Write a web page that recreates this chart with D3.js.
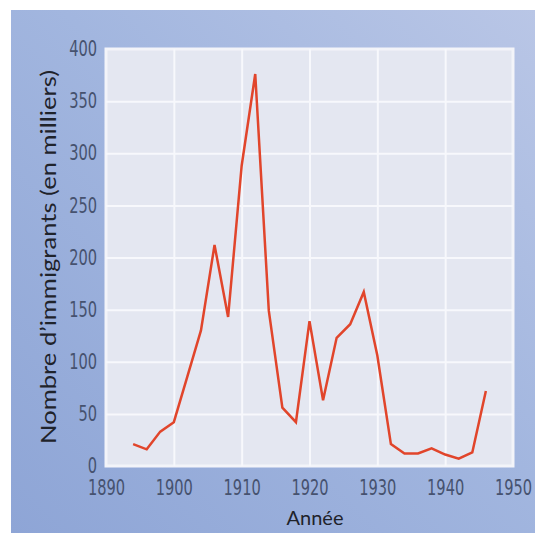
<!DOCTYPE html>
<html>
<head>
<meta charset="utf-8">
<script src="https://cdn.jsdelivr.net/npm/d3@7"></script>
<style>
  html, body { margin: 0; padding: 0; background: #fff; }
  svg { display: block; }
</style>
</head>
<body>
<svg id="chart"></svg>
<script>
// Immigration figures, every two years
const years = [1894, 1896, 1898, 1900, 1902, 1904, 1906, 1908, 1910, 1912, 1914, 1916, 1918, 1920,
  1922, 1924, 1926, 1928, 1930, 1932, 1934, 1936, 1938, 1940, 1942, 1944, 1946];
const immigrants = [21, 16, 33, 42, 86, 130, 212, 143, 288, 376, 149, 56, 42, 139,
  63, 123, 136, 167, 106, 21, 12, 12, 17, 11, 7, 13, 72];
const xTicks = [1890, 1900, 1910, 1920, 1930, 1940, 1950];
const yTicks = [0, 50, 100, 150, 200, 250, 300, 350, 400];

const width = 535, height = 533;
const plot = { left: 106, right: 513, top: 49, bottom: 466 };

const svg = d3.select('#chart')
  .attr('width', width)
  .attr('height', height);

// Blue backdrop
const defs = svg.append('defs');
const grad = defs.append('linearGradient')
  .attr('id', 'bg')
  .attr('x1', '0%').attr('y1', '100%')
  .attr('x2', '100%').attr('y2', '0%');
grad.append('stop').attr('offset', '0%').attr('stop-color', '#8ea5d6');
grad.append('stop').attr('offset', '55%').attr('stop-color', '#a2b6df');
grad.append('stop').attr('offset', '100%').attr('stop-color', '#b9c6e6');

svg.append('rect')
  .attr('x', 11).attr('y', 10)
  .attr('width', width - 11).attr('height', height - 10)
  .attr('fill', 'url(#bg)');

const x = d3.scaleLinear().domain([1890, 1950]).range([plot.left, plot.right]);
const y = d3.scaleLinear().domain([0, 400]).range([plot.bottom, plot.top]);

// Plot panel
svg.append('rect')
  .attr('x', plot.left).attr('y', plot.top)
  .attr('width', plot.right - plot.left).attr('height', plot.bottom - plot.top)
  .attr('fill', '#e4e7f1')
  .attr('stroke', '#f3f4f9')
  .attr('stroke-width', 3);

// Grid lines
const grid = svg.append('g').attr('class', 'grid');
grid.append('g')
  .attr('transform', `translate(0, ${plot.bottom})`)
  .call(d3.axisBottom(x).tickValues(xTicks.slice(1, -1)).tickSize(-(plot.bottom - plot.top)).tickFormat(''));
grid.append('g')
  .attr('transform', `translate(${plot.left}, 0)`)
  .call(d3.axisLeft(y).tickValues(yTicks.slice(1, -1)).tickSize(-(plot.right - plot.left)).tickFormat(''));
grid.selectAll('.domain').remove();
grid.selectAll('.tick line')
  .attr('stroke', '#f7f8fc')
  .attr('stroke-width', 2);

// Axes (labels only) - squeezed horizontally for the condensed look
const tickFont = '"Liberation Sans Narrow", "DejaVu Sans Condensed", Roboto, sans-serif';
const digitWidth = 9.3;

function condense(sel) {
  sel.style('font-family', tickFont)
    .style('font-size', '21px')
    .attr('fill', '#46526f')
    .each(function (d) {
      const w = this.getComputedTextLength();
      const sx = (String(d).length * digitWidth) / w;
      const anchorX = +d3.select(this).attr('x') || 0;
      d3.select(this).attr('transform',
        `translate(${anchorX}, 0) scale(${sx}, 1) translate(${-anchorX}, 0)`);
    });
}

const xAxis = svg.append('g')
  .attr('transform', `translate(0, ${plot.bottom})`)
  .call(d3.axisBottom(x).tickValues(xTicks).tickSize(0).tickPadding(14).tickFormat(d3.format('d')));
xAxis.select('.domain').remove();
xAxis.selectAll('text').call(condense);

const yAxis = svg.append('g')
  .attr('transform', `translate(${plot.left}, 0)`)
  .call(d3.axisLeft(y).tickValues(yTicks).tickSize(0).tickPadding(9));
yAxis.select('.domain').remove();
yAxis.selectAll('text').call(condense);

// Axis titles
svg.append('text')
  .attr('x', 315)
  .attr('y', 525)
  .attr('text-anchor', 'middle')
  .style('font-family', 'Lato, "Open Sans", sans-serif')
  .style('font-size', '20px')
  .attr('fill', '#1f232b')
  .text('Année');

svg.append('text')
  .attr('transform', 'rotate(-90)')
  .attr('x', -257)
  .attr('y', 56)
  .attr('text-anchor', 'middle')
  .style('font-family', 'Lato, "Open Sans", sans-serif')
  .style('font-size', '22px')
  .attr('fill', '#1f232b')
  .attr('textLength', 374)
  .attr('lengthAdjust', 'spacingAndGlyphs')
  .text('Nombre d\u2019immigrants (en milliers)');

// Data line
const line = d3.line()
  .x((d, i) => x(years[i]))
  .y(d => y(d));

svg.append('path')
  .datum(immigrants)
  .attr('d', line)
  .attr('fill', 'none')
  .attr('stroke', '#e1452b')
  .attr('stroke-width', 2.5)
  .attr('stroke-linejoin', 'miter');
</script>
</body>
</html>
